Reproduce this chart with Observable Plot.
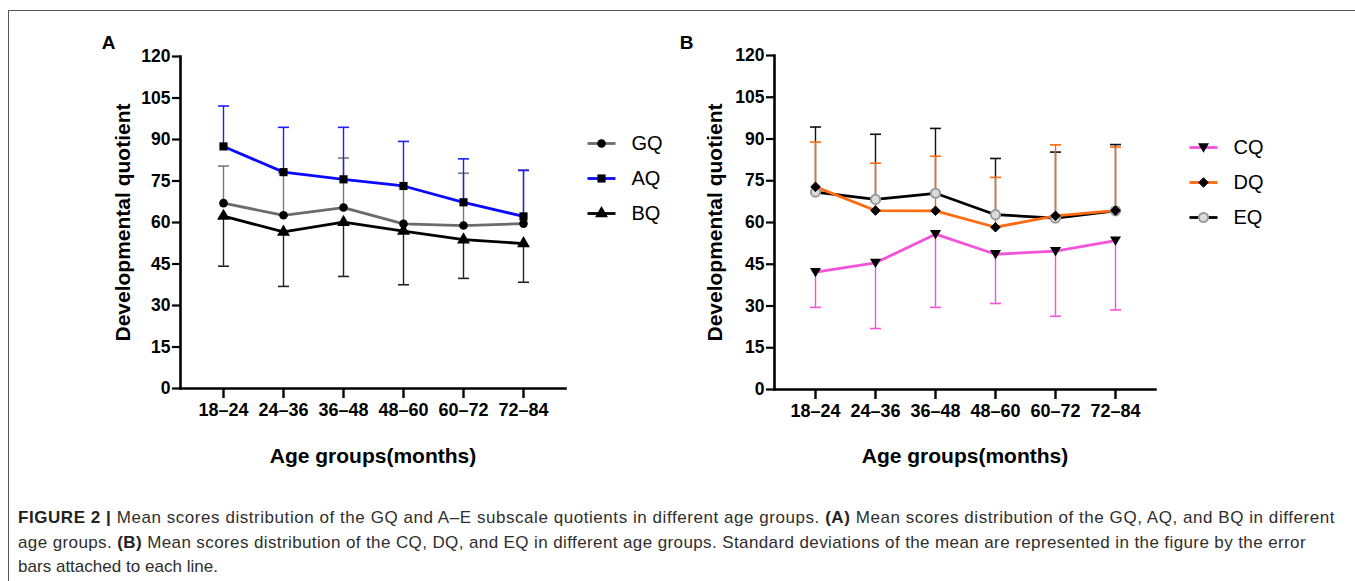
<!DOCTYPE html>
<html>
<head>
<meta charset="utf-8">
<script src="https://cdn.jsdelivr.net/npm/d3@7"></script>
<script src="https://cdn.jsdelivr.net/npm/@observablehq/plot@0.6"></script>
<style>
  html, body { margin: 0; padding: 0; background: #fff; }
  #page { position: relative; width: 1355px; height: 581px; overflow: hidden; background: #fff;
          font-family: "Liberation Sans", Arial, sans-serif; }
  .abs { position: absolute; }
  #frameTop { position: absolute; left: 8px; top: 10px; width: 1347px; height: 0; border-top: 1.5px solid #555; }
  #frameLeft { position: absolute; left: 8px; top: 10px; width: 0; height: 571px; border-left: 1.5px solid #555; }
  #caption { position: absolute; left: 18px; top: 506px; font-size: 17px; line-height: 24.5px; color: #2e2e2e; white-space: nowrap; }
  #caption div { display: block; width: max-content; }
  #caption b { color: #222; }
</style>
</head>
<body>
<div id="page">
  <div id="frameTop"></div>
  <div id="frameLeft"></div>
  <div id="panelA" class="abs" style="left:0px;top:0px"></div>
  <div id="panelB" class="abs" style="left:590px;top:0px"></div>
  <div id="legendA" class="abs" style="left:579px;top:123px"></div>
  <div id="legendB" class="abs" style="left:1181px;top:127px"></div>
  <div id="caption"></div>
</div>
<script>
// ---------------- data ----------------
const ages = ["18–24", "24–36", "36–48", "48–60", "60–72", "72–84"];
const yTicks = [0, 15, 30, 45, 60, 75, 90, 105, 120];

const seriesA = ["GQ", "AQ", "BQ"];
const gq      = [67.0, 62.6, 65.4, 59.5, 58.9, 59.6];
const gqUpper = [80.4, 78.0, 83.3, 73.0, 77.8, 79.0];
const aq      = [87.5, 78.2, 75.6, 73.2, 67.3, 62.2];
const aqUpper = [102.1, 94.4, 94.4, 89.3, 83.0, 78.8];
const bq      = [62.3, 56.6, 60.1, 56.9, 53.8, 52.4];
const bqLower = [44.2, 36.9, 40.5, 37.5, 39.8, 38.4];

const seriesB = ["CQ", "DQ", "EQ"];
const cq      = [42.2, 45.5, 55.8, 48.6, 49.7, 53.5];
const cqLower = [29.5, 21.9, 29.5, 30.9, 26.3, 28.6];
const dq      = [72.8, 64.3, 64.2, 58.3, 62.4, 64.3];
const dqUpper = [88.9, 81.3, 83.8, 76.2, 87.9, 87.1];
const eq      = [70.9, 68.3, 70.5, 62.8, 61.6, 64.2];
const eqUpper = [94.3, 91.7, 93.8, 83.0, 85.3, 88.0];

const yTitle = "Developmental quotient";
const xTitle = "Age groups(months)";

// ---------------- styles ----------------
const FONT = '"Liberation Sans", Arial, sans-serif';
const style = {
  GQ: {line: "#6b6b6b", err: "#7a7a7a", symbol: "circle", r: 4.3, fill: "#000", stroke: "none"},
  AQ: {line: "#0a0aff", err: "#2020ff", symbol: "square", r: 4.6, fill: "#000", stroke: "none"},
  BQ: {line: "#000000", err: "#222222", symbol: "triangle", r: 4.8, fill: "#000", stroke: "none"},
  CQ: {line: "#f552dc", err: "#f552dc", symbol: "tridown", r: 4.8, fill: "#000", stroke: "none"},
  DQ: {line: "#ff6a10", err: "#ff6a10", symbol: "diamond2", r: 4.3, fill: "#000", stroke: "#000"},
  EQ: {line: "#000000", err: "#111111", symbol: "circle", r: 4.6, fill: "#dcdcdc", stroke: "#9a9a9a"}
};

const capSymbol = {
  draw(ctx, size) {
    const r = Math.sqrt(size / Math.PI);
    ctx.moveTo(-r, 0); ctx.lineTo(r, 0);
  }
};
const triDown = {
  draw(ctx, size) {
    const r = Math.sqrt(size / Math.PI) * 1.15;
    ctx.moveTo(-r, -r * 0.75); ctx.lineTo(r, -r * 0.75); ctx.lineTo(0, r * 0.95); ctx.closePath();
  }
};
function sym(name) { return name === "tridown" ? triDown : name; }

function rows(means, ends) {
  return ages.map((a, i) => ({age: a, value: means[i], end: ends ? ends[i] : null}));
}

function seriesMarks(name, means, ends) {
  const s = style[name];
  const data = rows(means, ends);
  return {
    err: [
      Plot.ruleX(data, {x: "age", y1: "value", y2: "end", stroke: s.err, strokeWidth: 1.4}),
      Plot.dot(data, {x: "age", y: "end", symbol: capSymbol, r: 5.5, stroke: s.err, strokeWidth: 1.6, fill: "none"})
    ],
    line: Plot.line(data, {x: "age", y: "value", stroke: s.line, strokeWidth: 2.8}),
    dots: Plot.dot(data, {x: "age", y: "value", symbol: sym(s.symbol), r: s.r, fill: s.fill,
                          stroke: s.stroke, strokeWidth: name === "EQ" ? 2 : 1})
  };
}

function panel(opts, seriesList, letter) {
  const parts = seriesList.map(([n, m, e]) => seriesMarks(n, m, e));
  return Plot.plot({
    width: opts.width, height: opts.height,
    marginLeft: opts.ml, marginRight: opts.mr, marginTop: opts.mt, marginBottom: opts.mb,
    style: {fontFamily: FONT, background: "transparent", color: "#000", overflow: "visible"},
    x: {type: "point", domain: ages, padding: opts.padding, label: null},
    y: {domain: [0, 120], label: null},
    marks: [
      Plot.axisY({ticks: yTicks, tickSize: 8, tickPadding: 2, fontSize: 17.5, fontWeight: "bold", strokeWidth: 2.2, label: null}),
      Plot.axisX({tickSize: 10, tickPadding: 5, fontSize: 18, fontWeight: "bold", strokeWidth: 2.4, label: null}),
      Plot.frame({anchor: "left", stroke: "#000", strokeWidth: 2.6}),
      Plot.frame({anchor: "bottom", stroke: "#000", strokeWidth: 2.6}),
      ...parts.flatMap(p => p.err),
      ...parts.map(p => p.line),
      ...parts.map(p => p.dots),
      Plot.text([yTitle], {text: d => d, frameAnchor: "left", dx: opts.ydx, rotate: -90,
                           textAnchor: "middle", lineAnchor: "middle", fontSize: 21, fontWeight: "bold"}),
      Plot.text([xTitle], {text: d => d, frameAnchor: "bottom", dy: opts.xdy,
                           textAnchor: "middle", lineAnchor: "middle", fontSize: 21, fontWeight: "bold"}),
      Plot.text([letter], {text: d => d, frameAnchor: "top-left", dx: opts.ldx, dy: opts.ldy,
                           textAnchor: "middle", lineAnchor: "middle", fontSize: 19, fontWeight: "bold"})
    ]
  });
}

function legend(names) {
  const data = names.map(n => ({name: n}));
  return Plot.plot({
    width: 110, height: 110, marginLeft: 8, marginRight: 74, marginTop: 20, marginBottom: 20,
    style: {fontFamily: FONT, background: "transparent", color: "#000", overflow: "visible"},
    x: {domain: [0, 1], axis: null},
    y: {type: "point", domain: names, padding: 0, axis: null},
    marks: [
      ...names.map(n => Plot.link([{name: n}], {x1: 0, x2: 1, y1: "name", y2: "name", stroke: style[n].line, strokeWidth: 2.8})),
      ...names.map(n => Plot.dot([{name: n}], {x: 0.5, y: "name", symbol: sym(style[n].symbol), r: style[n].r,
                    fill: style[n].fill, stroke: style[n].stroke, strokeWidth: n === "EQ" ? 2 : 1})),
      Plot.text(data, {x: 1, y: "name", text: "name", dx: 16, textAnchor: "start", fontSize: 20})
    ]
  });
}

document.getElementById("panelA").append(panel(
  {width: 680, height: 475, ml: 180, mr: 115, mt: 56, mb: 87, padding: 0.69, ydx: -57, xdy: 68, ldx: -72, ldy: -14},
  [["GQ", gq, gqUpper], ["BQ", bq, bqLower], ["AQ", aq, aqUpper]], "A"));

document.getElementById("panelB").append(panel(
  {width: 680, height: 475, ml: 184, mr: 115, mt: 55, mb: 86, padding: 0.645, ydx: -59, xdy: 67, ldx: -88, ldy: -13},
  [["CQ", cq, cqLower], ["EQ", eq, eqUpper], ["DQ", dq, dqUpper]], "B"));

document.getElementById("legendA").append(legend(seriesA));
document.getElementById("legendB").append(legend(seriesB));

// caption
const captionLines = [
  "<b>FIGURE 2 |</b> Mean scores distribution of the GQ and A–E subscale quotients in different age groups. <b>(A)</b> Mean scores distribution of the GQ, AQ, and BQ in different",
  "age groups. <b>(B)</b> Mean scores distribution of the CQ, DQ, and EQ in different age groups. Standard deviations of the mean are represented in the figure by the error",
  "bars attached to each line."
];
const lineWidths = [1317, 1288, 200];
const cap = document.getElementById("caption");
captionLines.forEach((l, i) => {
  const d = document.createElement("div");
  d.innerHTML = l;
  cap.append(d);
  const w = d.getBoundingClientRect().width;
  d.style.letterSpacing = ((lineWidths[i] - w) / d.textContent.length) + "px";
});
</script>
</body>
</html>
